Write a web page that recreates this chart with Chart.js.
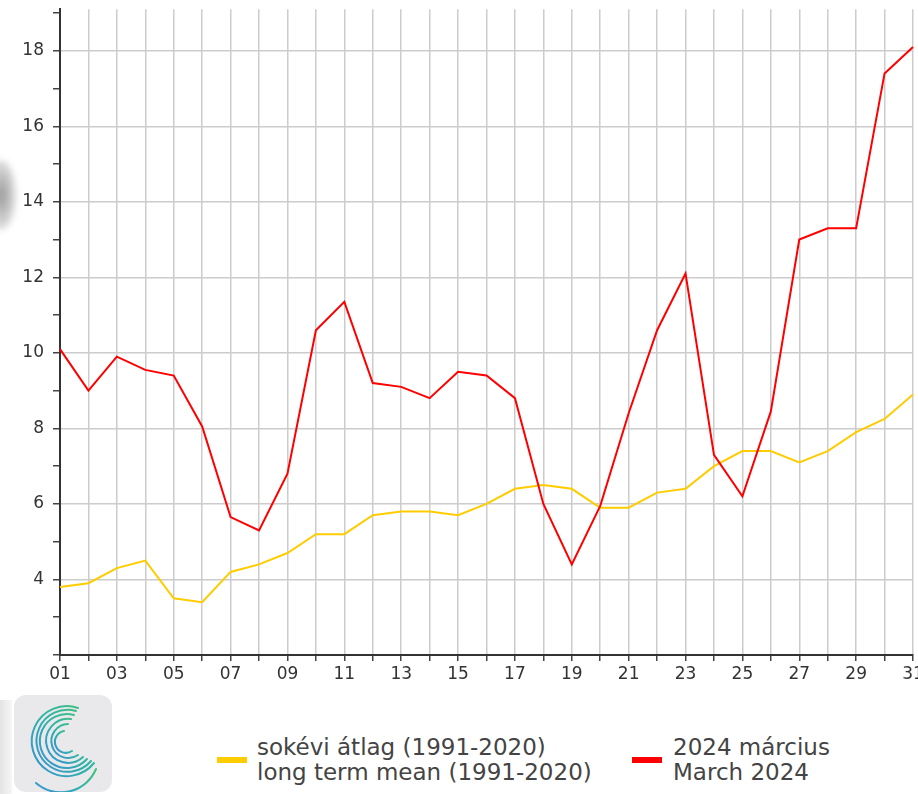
<!DOCTYPE html>
<html>
<head>
<meta charset="utf-8">
<script src="https://cdn.jsdelivr.net/npm/chart.js@4"></script>
<style>
    html, body { margin: 0; padding: 0; background: #fff; overflow: hidden; }
    body { width: 918px; height: 794px; position: relative; font-family: "DejaVu Sans", Verdana, sans-serif; }
    #wrap { position: absolute; left: 0; top: -10px; width: 930px; height: 710px; }
    .blob { position: absolute; left: -14px; top: 160px; width: 30px; height: 70px; border-radius: 50%;
            background: radial-gradient(#999, rgba(200,200,200,0)); filter: blur(3px); }
    .logo { position: absolute; left: 14px; top: 695px; width: 98px; height: 97px; }
    .fade { position: absolute; left: 0; top: 700px; width: 12px; height: 94px;
            background: linear-gradient(to right, #e4e4e4, #f6f6f6); }
    .legend { position: absolute; top: 735px; font-size: 23px; line-height: 25px; color: #444; white-space: nowrap; }
    .swatch { position: absolute; width: 30px; height: 6px; top: 22px; }
</style>
</head>
<body>
<div class="blob"></div>
<div id="wrap"><canvas id="marchChart"></canvas></div>

<div class="fade"></div>
<svg class="logo" viewBox="0 0 98 97">
    <defs>
        <linearGradient id="sp" x1="0" y1="1" x2="1" y2="0">
            <stop offset="0" stop-color="#3a8fd6"/>
            <stop offset="0.5" stop-color="#2fb3a8"/>
            <stop offset="1" stop-color="#46c27a"/>
        </linearGradient>
    </defs>
    <rect x="0" y="0" width="98" height="97" rx="12" fill="#e9e9ec"/>
    <g fill="none" stroke="url(#sp)" stroke-width="2" stroke-linecap="round">
        <path d="M58 56 A11 11 0 1 1 50 36"/>
        <path d="M64 60 A17 17 0 1 1 54 29"/>
        <path d="M69 62 A22 22 0 1 1 57 24"/>
        <path d="M73 64 A27 27 0 1 1 60 20"/>
        <path d="M77 66 A31 31 0 1 1 62 16"/>
        <path d="M80 68 A35 35 0 1 1 64 13"/>
        <path d="M82 74 A38 38 0 0 1 22 88"/>
    </g>
</svg>

<div class="legend" style="left:217px;">
    <div class="swatch" style="background:#ffcc00; left:0;"></div>
    <div style="margin-left:40px;">sokévi átlag (1991-2020)<br>long term mean (1991-2020)</div>
</div>
<div class="legend" style="left:632px;">
    <div class="swatch" style="background:#ff0000; left:0;"></div>
    <div style="margin-left:41px;">2024 március<br>March 2024</div>
</div>

<script>
// days of March
const days = ['01', '02', '03', '04', '05', '06', '07', '08', '09', '10',
    '11', '12', '13', '14', '15', '16', '17', '18', '19', '20',
    '21', '22', '23', '24', '25', '26', '27', '28', '29', '30', '31'];

// daily mean temperature, 2024 March
const march2024 = [10.1, 9.0, 9.9, 9.55, 9.4, 8.05, 5.65, 5.3, 6.8, 10.6,
    11.35, 9.2, 9.1, 8.8, 9.5, 9.4, 8.8, 6.0, 4.4, 5.95,
    8.4, 10.6, 12.1, 7.3, 6.2, 8.45, 13.0, 13.3, 13.3, 17.4, 18.1];

// long term mean 1991-2020
const longTermMean = [3.8, 3.9, 4.3, 4.5, 3.5, 3.4, 4.2, 4.4, 4.7, 5.2,
    5.2, 5.7, 5.8, 5.8, 5.7, 6.0, 6.4, 6.5, 6.4, 5.9,
    5.9, 6.3, 6.4, 7.0, 7.4, 7.4, 7.1, 7.4, 7.9, 8.25, 8.9];

const yMin = 2;
const yMax = 19.1;

const ctx = document.getElementById('marchChart');

new Chart(ctx, {
    type: 'line',
    data: {
        labels: days,
        datasets: [{
            label: '2024 március',
            data: march2024,
            borderColor: '#ff0000',
            borderWidth: 2,
            pointRadius: 0,
            tension: 0
        }, {
            label: 'sokévi átlag (1991-2020)',
            data: longTermMean,
            borderColor: '#ffcc00',
            borderWidth: 2,
            pointRadius: 0,
            tension: 0
        }]
    },
    options: {
        responsive: true,
        maintainAspectRatio: false,
        animation: false,
        layout: {
            padding: { top: 7, right: 17, bottom: 0, left: 0 }
        },
        plugins: {
            legend: { display: false },
            tooltip: { enabled: false }
        },
        scales: {
            x: {
                offset: false,
                afterFit: (scale) => { scale.height = 45; },
                border: { color: '#333333', width: 2 },
                grid: {
                    color: '#cccccc', // light grid every day
                    lineWidth: 1.5,
                    tickColor: '#444444',
                    tickLength: 6
                },
                ticks: {
                    color: '#333333',
                    font: { family: 'DejaVu Sans', size: 17 },
                    padding: 3,
                    autoSkip: false,
                    maxRotation: 0,
                    callback: (val, i) => (i % 2 === 0 ? days[i] : '')
                }
            },
            y: {
                min: yMin,
                max: yMax,
                afterFit: (scale) => { scale.width = 60; },
                border: { color: '#333333', width: 2 },
                grid: {
                    // gridlines only on even values, tick marks on all
                    color: (c) => (c.tick && c.tick.value % 2 === 0 && c.tick.value > yMin ? '#cccccc' : 'rgba(0,0,0,0)'),
                    lineWidth: 1.5,
                    tickColor: '#444444',
                    tickLength: 7
                },
                ticks: {
                    stepSize: 1,
                    includeBounds: false,
                    color: '#333333',
                    font: { family: 'DejaVu Sans', size: 17 },
                    padding: 9,
                    callback: (v) => (v % 2 === 0 && v > yMin ? String(v) : '')
                }
            }
        }
    }
});
</script>
</body>
</html>
